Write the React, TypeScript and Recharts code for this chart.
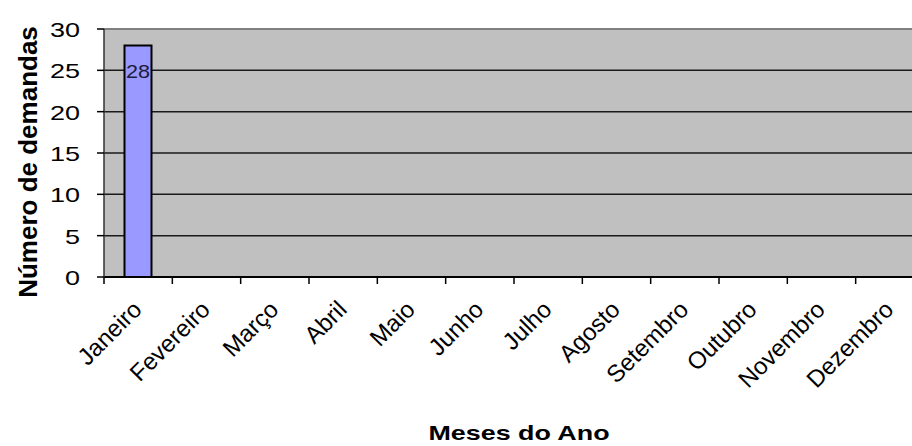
import { BarChart, Bar, XAxis, YAxis, CartesianGrid, ReferenceLine, LabelList } from "recharts";

const months = [
  "Janeiro", "Fevereiro", "Março", "Abril", "Maio", "Junho",
  "Julho", "Agosto", "Setembro", "Outubro", "Novembro", "Dezembro",
];
const demandas: (number | null)[] = [28, null, null, null, null, null, null, null, null, null, null, null];
const yTicks = [0, 5, 10, 15, 20, 25, 30];
const boundaryTicks = [0, 1, 2, 3, 4, 5, 6, 7, 8, 9, 10, 11, 12];

const data = months.map((m, i) => ({ month: m, idx: i + 0.5, value: demandas[i] }));

const FONT = "'Liberation Sans', Arial, sans-serif";

// horizontal text in the reference looks stretched sideways
const YTick = ({ x, y, payload }: any) => (
  <text
    x={0}
    y={0}
    textAnchor="end"
    dominantBaseline="central"
    fontSize={20}
    fontFamily={FONT}
    fill="#000"
    transform={`translate(${x},${y + 1}) scale(1.35,1)`}
  >
    {payload.value}
  </text>
);

const XTick = ({ x, y, payload }: any) => (
  <text
    x={0}
    y={0}
    textAnchor="end"
    fontSize={24}
    fontFamily={FONT}
    fill="#000"
    transform={`translate(${x + 5},${y + 25}) rotate(-45)`}
  >
    {payload.value}
  </text>
);

const BarValue = ({ x, y, width, value }: any) =>
  value == null ? null : (
    <text
      x={0}
      y={0}
      textAnchor="middle"
      fontSize={18}
      fontFamily={FONT}
      fill="#1c1c3a"
      transform={`translate(${x + width / 2},${y + 32}) scale(1.2,1)`}
    >
      {value}
    </text>
  );

export default function App() {
  return (
    <div style={{ position: "absolute", left: 0, top: 0, width: 912, height: 446, overflow: "hidden", background: "#fff" }}>
      <BarChart
        width={940}
        height={446}
        data={data}
        margin={{ top: 29, right: 16, left: 0, bottom: 0 }}
        barCategoryGap="30%"
      >
        <CartesianGrid
          xAxisId="b_cat"
          vertical={false}
          horizontalValues={[5, 10, 15, 20, 25]}
          stroke="#1a1a1a"
          strokeWidth={1.5}
          fill="#C0C0C0"
        />
        <XAxis
          xAxisId="b_cat"
          dataKey="month"
          height={168}
          interval={0}
          tickLine={false}
          axisLine={false}
          tick={<XTick />}
          label={{
            content: () => (
              <text
                x={0}
                y={0}
                textAnchor="middle"
                fontSize={21}
                fontWeight="bold"
                fontFamily={FONT}
                fill="#000"
                transform="translate(519,440) scale(1.28,1)"
              >
                Meses do Ano
              </text>
            ),
          }}
        />
        {/* boundary ticks between months, like the original */}
        <XAxis
          xAxisId="a_ticks"
          type="number"
          dataKey="idx"
          domain={[0, 12]}
          ticks={boundaryTicks}
          interval={0}
          height={1}
          tickFormatter={() => ""}
          tickSize={7}
          tickLine={{ stroke: "#000", strokeWidth: 1.5 }}
          axisLine={{ stroke: "#000", strokeWidth: 2 }}
        />
        <YAxis
          width={104}
          domain={[0, 30]}
          ticks={yTicks}
          interval={0}
          tickSize={7}
          tickMargin={17}
          tickLine={{ stroke: "#000", strokeWidth: 1.5 }}
          axisLine={{ stroke: "#333", strokeWidth: 1.5 }}
          tick={<YTick />}
          label={{
            content: () => (
              <text
                x={0}
                y={0}
                textAnchor="middle"
                fontSize={26}
                fontWeight="bold"
                fontFamily={FONT}
                fill="#000"
                transform="translate(37,162) rotate(-90)"
              >
                Número de demandas
              </text>
            ),
          }}
        />
        <ReferenceLine xAxisId="b_cat" y={30} stroke="#808080" strokeWidth={2} />
        <Bar
          xAxisId="b_cat"
          dataKey="value"
          fill="#9999FF"
          stroke="#000"
          strokeWidth={2}
          isAnimationActive={false}
        >
          <LabelList dataKey="value" content={<BarValue />} />
        </Bar>
      </BarChart>
    </div>
  );
}
